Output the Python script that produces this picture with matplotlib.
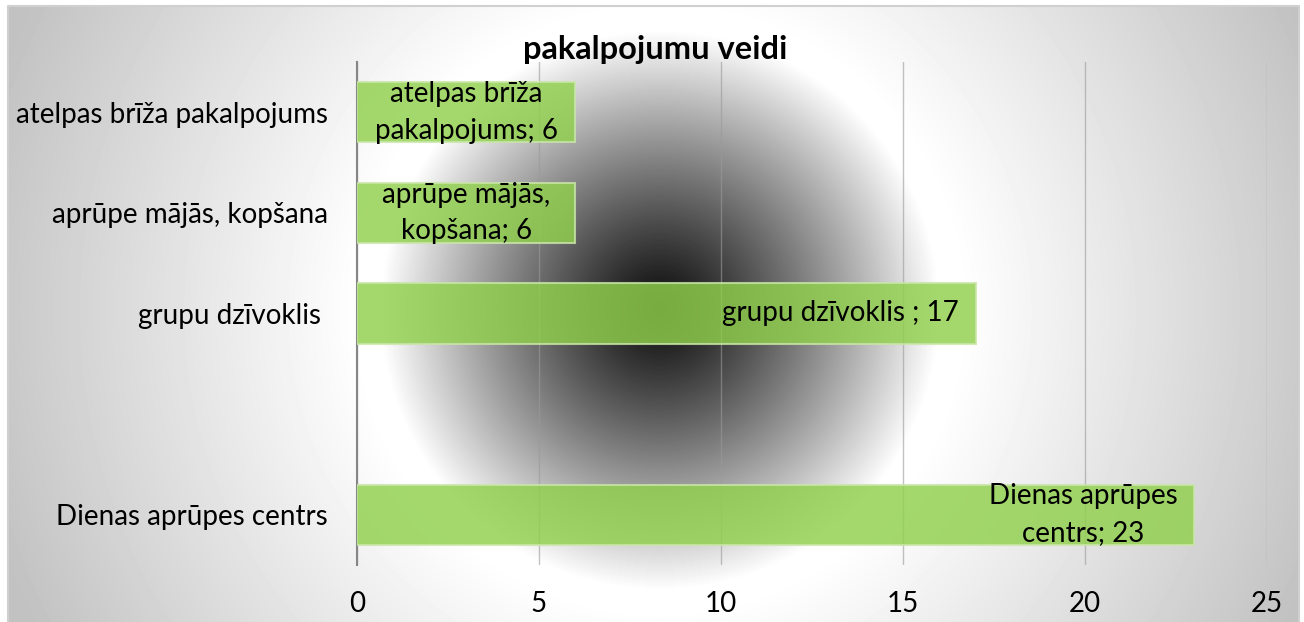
import matplotlib
matplotlib.use('Agg')
import matplotlib.pyplot as plt
import numpy as np

matplotlib.rc('font', family=['Lato', 'DejaVu Sans'], size=20)

# data (bottom to top, one empty slot)
categories = ['Dienas aprūpes centrs', '', 'grupu dzīvoklis ', 'aprūpe mājās, kopšana', 'atelpas brīža pakalpojums']
values = [23, np.nan, 17, 6, 6]
bar_labels = ['Dienas aprūpes\ncentrs; 23', '', 'grupu dzīvoklis ; 17', 'aprūpe mājās,\nkopšana; 6', 'atelpas brīža\npakalpojums; 6']
xticks = [0, 5, 10, 15, 20, 25]
title = 'pakalpojumu veidi'

W, H = 1304, 622
fig = plt.figure(figsize=(W / 100, H / 100), dpi=100)

# radial gradient background of the chart area
bg = fig.add_axes([0, 0, 1, 1], zorder=-5)
yy, xx = np.mgrid[0:H, 0:W] + 0.5
r = np.hypot(xx - 660, yy - 310)
inner = 0.05 + 0.95 * np.clip(r / 280, 0, 1) ** 1.15
outer = 1.0 - 0.24 * np.clip((r - 300) / 400, 0, 1)
img = np.where(r < 280, inner, np.where(r < 300, 1.0, outer))
img[(xx < 8) | (yy < 6) | (xx > 1299)] = 1.0
bg.imshow(img, cmap='gray', vmin=0, vmax=1, extent=[0, W, H, 0], aspect='auto', interpolation='bilinear')
bg.plot([8, 8, 1299, 1299], [H, 6, 6, H], color='#d0d0d0', lw=1.5)
bg.set_xlim(0, W)
bg.set_ylim(H, 0)
bg.axis('off')

ax = fig.add_axes([357 / W, 57 / H, 910 / W, 503 / H])
ax.set_facecolor('none')

ypos = np.arange(len(categories))
ax.barh(ypos, values, height=0.6, color='#90D04C', alpha=0.82,
        edgecolor='#c8e6a8', linewidth=1.5, zorder=3)

for y, v, lab in zip(ypos, values, bar_labels):
    if np.isnan(v):
        continue
    if v < 10:
        ax.text(v / 2, y, lab, ha='center', va='center', multialignment='center',
                linespacing=1.5, zorder=4)
    else:
        ax.annotate(lab, (v, y), xytext=(-12, 0), textcoords='offset points',
                    ha='right', va='center', multialignment='center',
                    linespacing=1.5, zorder=4)

ax.set_xlim(0, 25)
ax.set_ylim(-0.5, len(categories) - 0.5)
ax.set_xticks(xticks)
ax.set_yticks(ypos)
ax.set_yticklabels(categories)
ax.tick_params(axis='x', length=0, pad=19)
ax.tick_params(axis='y', length=0, pad=21)
ax.grid(axis='x', color='#9a9a9a', alpha=0.6, lw=1, zorder=1)
for s in ['top', 'right', 'bottom']:
    ax.spines[s].set_visible(False)
ax.spines['left'].set_color('#868686')
ax.spines['left'].set_linewidth(1.5)

fig.text(655 / W, 1 - 50 / H, title, ha='center', va='center', fontsize=23.5, fontweight='bold')

plt.savefig('out.png', dpi=100)
